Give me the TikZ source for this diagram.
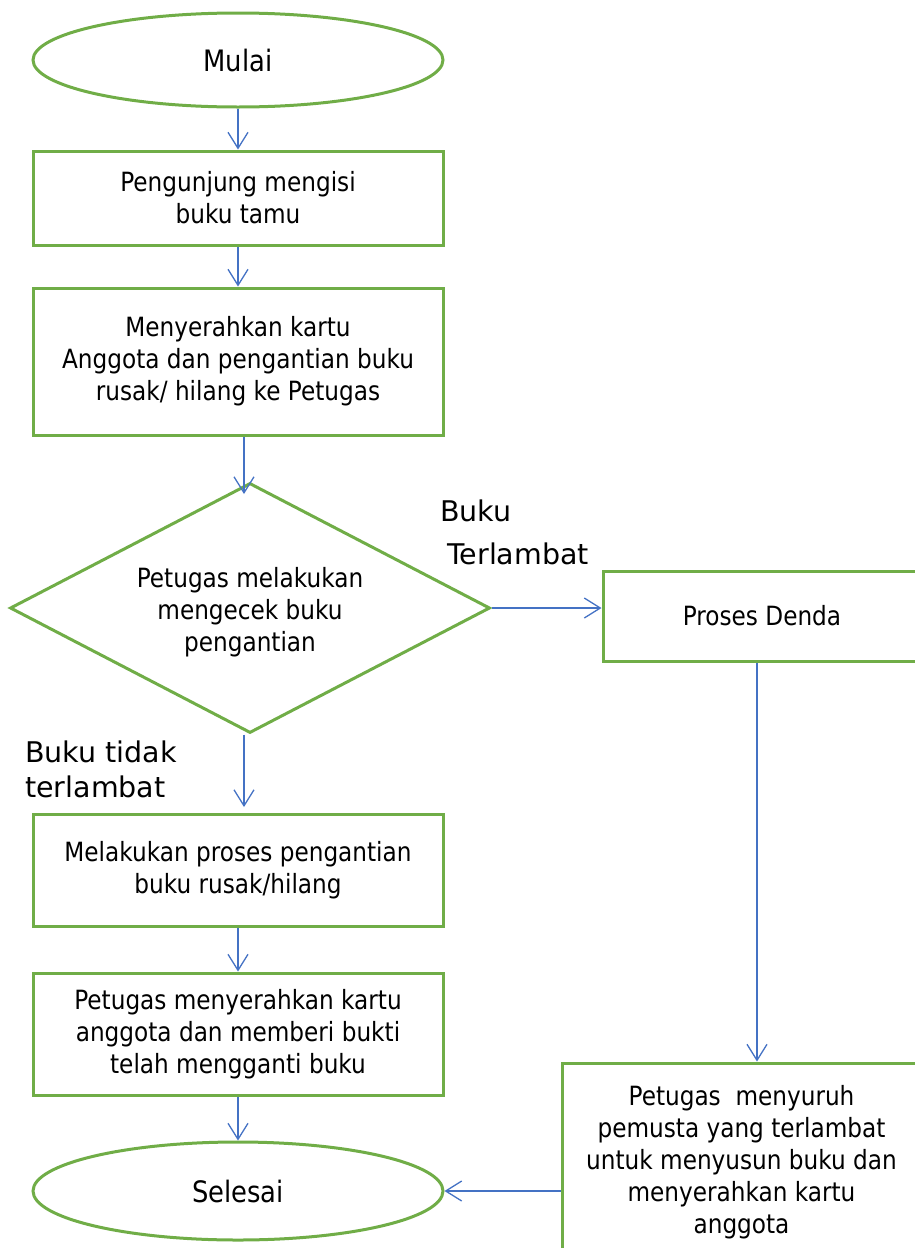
\documentclass[tikz,border=0pt]{standalone}
\usepackage{fontspec}
\setmainfont{DejaVu Sans}
\newfontfamily\boxf[FakeStretch=0.875]{DejaVu Sans}
\usetikzlibrary{shapes.geometric,arrows.meta}
\definecolor{grn}{RGB}{112,173,71}
\definecolor{blu}{RGB}{68,114,196}
\tikzset{
  shp/.style={draw=grn, line width=3pt, inner sep=0pt, align=center,
    font=\boxf\fontsize{26.5}{32}\selectfont},
  boxn/.style={shp, rectangle, minimum width=410pt},
  term/.style={shp, ellipse, minimum width=410pt, font=\boxf\fontsize{29.5}{35}\selectfont},
  dec/.style={shp, diamond, minimum width=480pt, minimum height=250pt, aspect=1.92},
  lbl/.style={inner sep=0pt, align=left, anchor=base west},
  arr/.style={draw=blu, line width=1.3pt, -{Straight Barb[length=16pt,width=20pt]}}
}
\begin{document}
\begin{tikzpicture}[x=1pt,y=-1pt]
\useasboundingbox (0,0) rectangle (914,1248);
\node[term, minimum height=94pt] (mulai) at (238,60) {Mulai};
\node[boxn, minimum height=94pt] (b1) at (238,198) {Pengunjung mengisi\\buku tamu};
\node[boxn, minimum height=147pt] (b2) at (238,361.5) {Menyerahkan kartu\\Anggota dan pengantian buku\\rusak/ hilang ke Petugas};
\node[dec] (d) at (250,608) {\rule{0pt}{29pt}Petugas melakukan\\mengecek buku\\pengantian};
\node[boxn, minimum width=318pt, minimum height=90pt] (denda) at (762,616) {Proses Denda};
\node[boxn, minimum height=112pt] (b3) at (238,870) {Melakukan proses pengantian\\buku rusak/hilang};
\node[boxn, minimum height=122pt] (b4) at (238,1034) {Petugas menyerahkan kartu\\anggota dan memberi bukti\\telah mengganti buku};
\node[term, minimum height=98pt] (selesai) at (238,1191) {Selesai};
\node[boxn, minimum width=359pt, minimum height=199pt] (note) at (741.5,1162.5) {Petugas\ \ menyuruh\\pemusta yang terlambat\\untuk menyusun buku dan\\menyerahkan kartu\\anggota};
\node[lbl, font=\fontsize{28.5}{43}\selectfont] (l1) at (440,564) {Buku\\\hspace*{7pt}Terlambat};
\node[lbl, font=\fontsize{28.5}{35}\selectfont] (l2) at (25,797) {Buku tidak\\terlambat};
\coordinate (dt) at (244,494);
\coordinate (b3t) at (244,807);
\draw[arr] (mulai) -- (b1);
\draw[arr] (b1) -- (b2);
\draw[arr] (b2.south -| dt) -- (dt);
\draw[arr] (d.east) -- (d.east -| denda.west);
\draw[arr] (b3t |- d.south) -- (b3t);
\draw[arr] (b3) -- (b4);
\draw[arr] (b4) -- (selesai);
\draw[arr] ([xshift=-5pt]denda.south) -- ([xshift=-5pt]denda.south |- note.north);
\draw[arr] (note.west |- selesai.east) -- (selesai.east);
\end{tikzpicture}
\end{document}
